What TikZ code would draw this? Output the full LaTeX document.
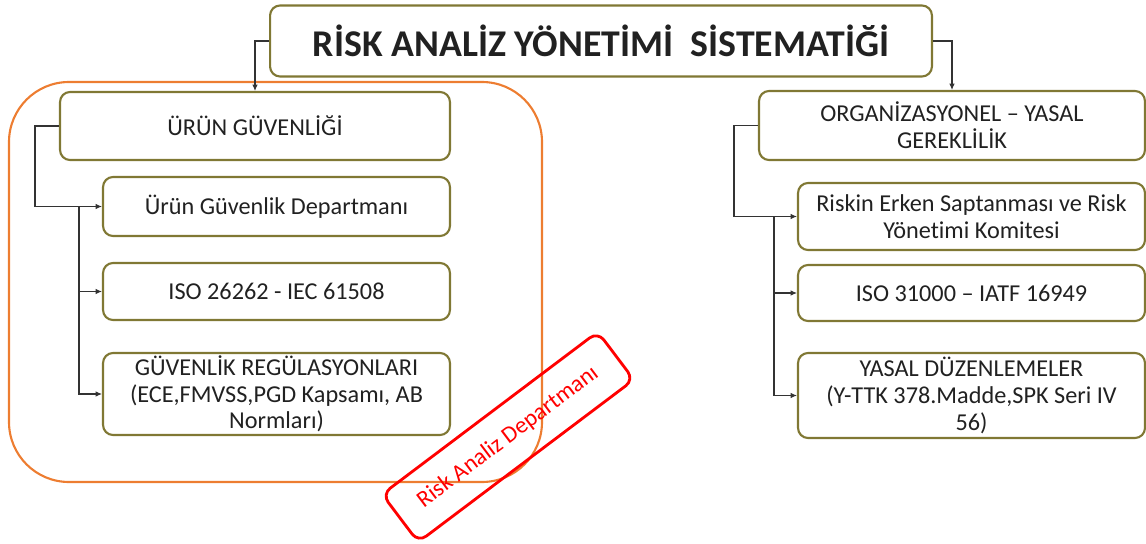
\documentclass[tikz,border=0pt]{standalone}
\usepackage{fontspec}
\setmainfont[Ligatures=NoCommon]{Carlito}
\usepackage{tikz}
\usetikzlibrary{positioning, arrows.meta, calc}

\definecolor{kutuCizgi}{RGB}{128,120,52}
\definecolor{turuncu}{RGB}{237,125,49}
\definecolor{kirmizi}{RGB}{255,0,0}
\definecolor{yazi}{RGB}{33,33,33}

\begin{document}
\begin{tikzpicture}[>={Latex[length=3.6pt,width=3.2pt]}, x=0.02cm, y=-0.02cm,
    kutu/.style={draw=kutuCizgi, line width=1.2pt, rounded corners=0.2cm, fill=white,
        align=center, text=yazi, inner sep=1pt, font=\fontsize{13.8}{15.2}\selectfont},
    bag/.style={->, line width=0.6pt, draw=black!80}]

    % Sayfa sınırı (1146 x 544 px)
    \useasboundingbox (0,0) rectangle (1146,544);

    % --- Turuncu çerçeve (ürün güvenliği grubu) ---
    \draw[turuncu, line width=1.2pt, rounded corners=1.2cm] (9,82) rectangle (542,482);

    % --- Başlık ---
    \node[kutu, minimum width=13.24cm, minimum height=1.42cm,
        font=\fontsize{21.5}{24}\selectfont\bfseries] (baslik) at (601,41)
        {RİSK ANALİZ YÖNETİMİ~ SİSTEMATİĞİ};

    % --- Sol kol: ürün güvenliği ---
    \node[kutu, minimum width=7.8cm, minimum height=1.36cm] (urun) at (255,126) {ÜRÜN GÜVENLİĞİ};
    \node[kutu, minimum width=6.94cm, minimum height=1.18cm] (urunDep) at (276.5,206.5) {Ürün Güvenlik Departmanı};
    \node[kutu, minimum width=6.94cm, minimum height=1.14cm] (iso26262) at (276.5,291.5) {ISO 26262 - IEC 61508};
    \node[kutu, minimum width=6.94cm, minimum height=1.64cm] (guvReg) at (276.5,394)
        {GÜVENLİK REGÜLASYONLARI\\(ECE,FMVSS,PGD Kapsamı, AB\\Normları)};

    % --- Sağ kol: organizasyonel / yasal ---
    \node[kutu, minimum width=7.72cm, minimum height=1.38cm] (org) at (952,125.5)
        {ORGANİZASYONEL – YASAL\\GEREKLİLİK};
    \node[kutu, minimum width=6.94cm, minimum height=1.34cm] (erken) at (971.5,216.5)
        {Riskin Erken Saptanması ve Risk\\Yönetimi Komitesi};
    \node[kutu, minimum width=6.94cm, minimum height=1.12cm] (iso31000) at (971.5,293) {ISO 31000 – IATF 16949};
    \node[kutu, minimum width=6.94cm, minimum height=1.7cm] (yasal) at (971.5,395.5)
        {YASAL DÜZENLEMELER\\(Y-TTK 378.Madde,SPK Seri IV\\56)};

    % --- Bağlantılar ---
    \draw[bag] (baslik.west) -| (urun.north);
    \draw[bag] (baslik.east) -| (org.north);

    \draw[bag] (urun.west) -- ++(-24,0) |- (urunDep.west);
    \draw[bag] (urunDep.west) ++(-23,0) |- (iso26262.west);
    \draw[bag] (urunDep.west) ++(-23,0) |- (guvReg.west);

    \draw[bag] (org.west) -- ++(-24,0) |- (erken.west);
    \draw[bag] (erken.west) ++(-23,0) |- (iso31000.west);
    \draw[bag] (erken.west) ++(-23,0) |- (yasal.west);

    % Kırmızı damga
    \node[draw=kirmizi, line width=1.6pt, rounded corners=0.2cm, rotate=37,
        minimum width=5.4cm, minimum height=1.2cm, text=kirmizi,
        font=\fontsize{13.4}{15}\selectfont] (riskDep) at (508,437) {Risk Analiz Departmanı};

\end{tikzpicture}
\end{document}
